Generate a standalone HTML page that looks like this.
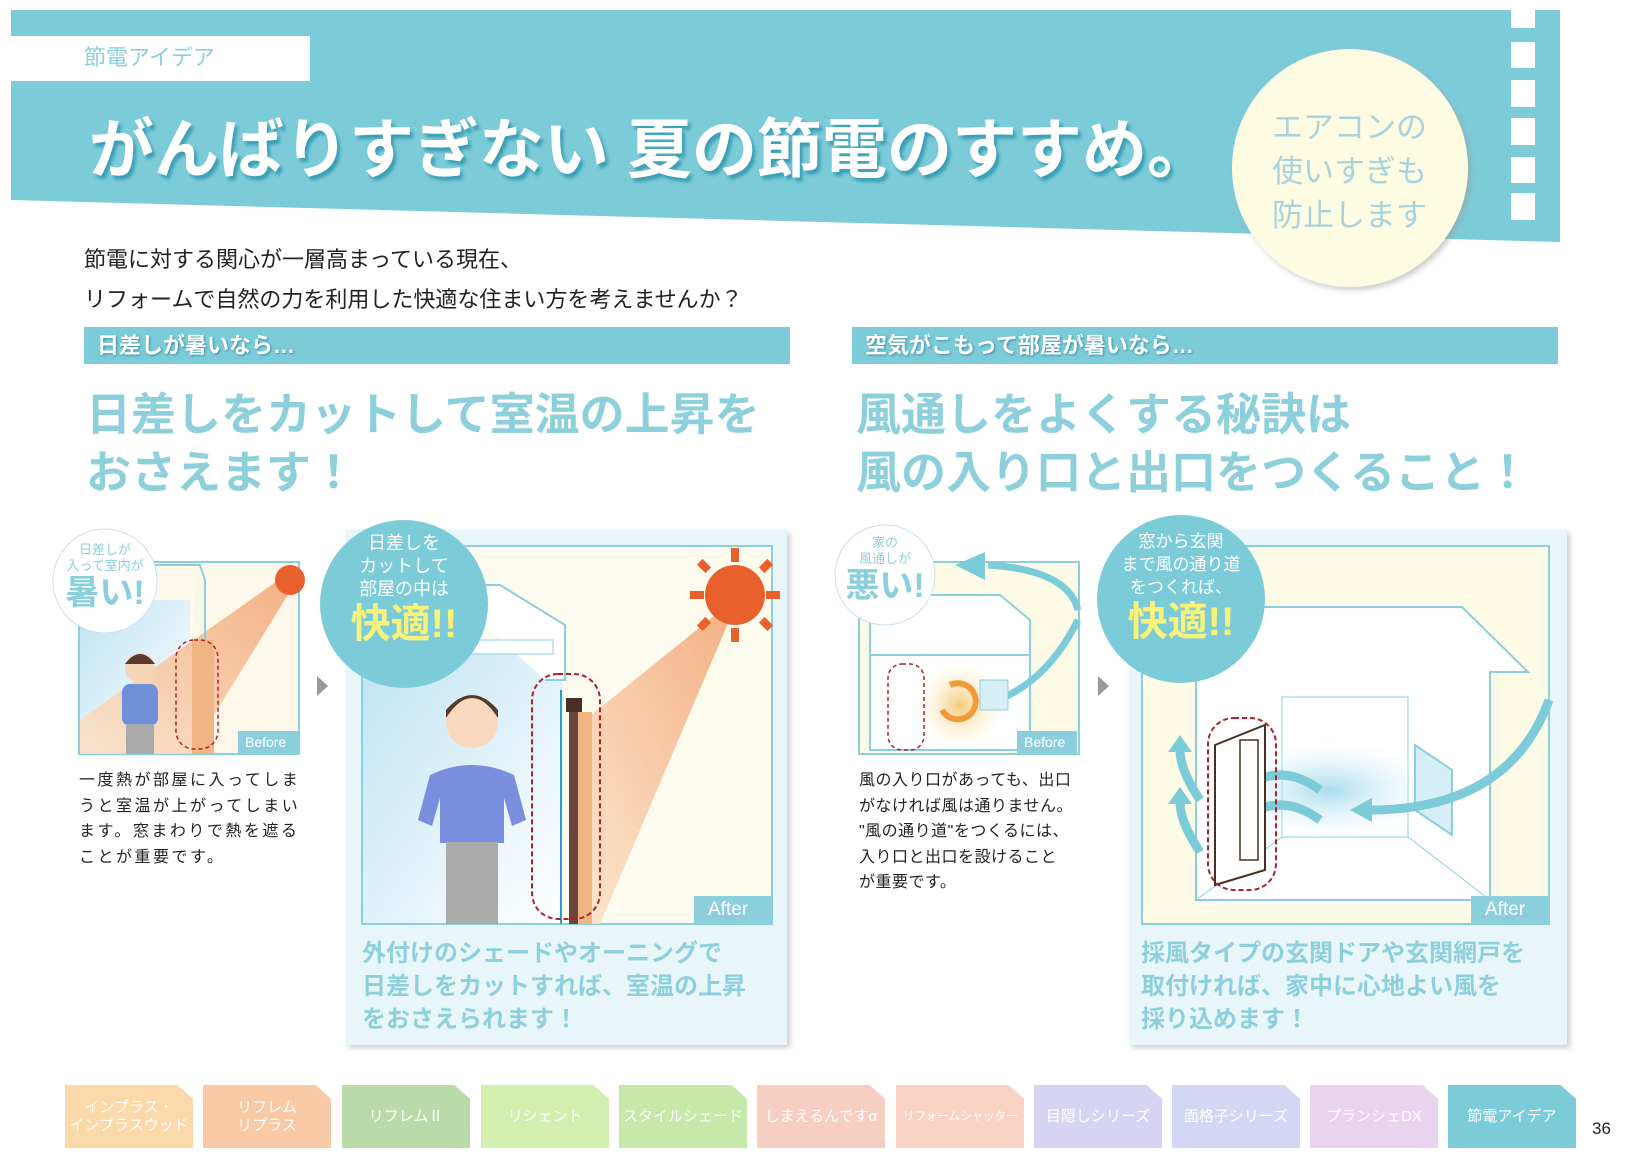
<!DOCTYPE html>
<html><head><meta charset="utf-8">
<style>
*{margin:0;padding:0;box-sizing:border-box}
body{width:1638px;height:1158px;background:#fff;position:relative;overflow:hidden;font-family:"Liberation Sans","Noto Sans CJK JP",sans-serif}
.t{position:absolute;white-space:nowrap;line-height:1}
.tab{position:absolute;top:1085px;height:63px;width:128px;color:#fff;font-size:15px;display:flex;align-items:center;justify-content:center;text-align:center;line-height:1.2;clip-path:polygon(0 0,88% 0,100% 22%,100% 100%,0 100%)}
</style></head><body>
<svg width="1638" height="1158" style="position:absolute;left:0;top:0">
<defs>
<linearGradient id="win" x1="0" y1="0" x2="1" y2="1"><stop offset="0" stop-color="#bfe3f3"/><stop offset="1" stop-color="#ffffff"/></linearGradient>
<linearGradient id="beam" x1="1" y1="0" x2="0" y2="1"><stop offset="0" stop-color="#f3a574"/><stop offset="1" stop-color="#fbe3c9"/></linearGradient>
<radialGradient id="warm"><stop offset="0" stop-color="#f7c97a"/><stop offset="1" stop-color="#fdf6dc" stop-opacity="0"/></radialGradient>
<radialGradient id="cool"><stop offset="0" stop-color="#a9dcee"/><stop offset="1" stop-color="#e8f6fb" stop-opacity="0"/></radialGradient>
<filter id="sh"><feDropShadow dx="3" dy="3" stdDeviation="3" flood-color="#999" flood-opacity=".5"/></filter>
</defs>
<polygon points="11,10 1560,10 1560,242 11,200" fill="#7ccbd8"/>
<g fill="#fff"><rect x="1511" y="10" width="24" height="18"/><rect x="1511" y="42" width="24" height="26"/><rect x="1511" y="80" width="24" height="27"/><rect x="1511" y="118" width="24" height="27"/><rect x="1511" y="157" width="24" height="26"/><rect x="1511" y="193" width="24" height="27"/></g>
<rect x="11" y="36" width="299" height="45" fill="#fff"/>
<ellipse cx="1350" cy="168" rx="118" ry="119" fill="#fdfbe2" filter="url(#sh)"/>
<rect x="84" y="327" width="706" height="37" fill="#7ccbd8"/>
<rect x="852" y="327" width="706" height="37" fill="#7ccbd8"/>

<rect x="79" y="562" width="220" height="192" fill="#fdf8ea" stroke="#8ccfdc" stroke-width="2"/>
<rect x="80" y="600" width="110" height="153" fill="url(#win)"/>
<polygon points="300,575 190,754 80,754 80,720 300,565" fill="url(#beam)" opacity=".9"/>
<polyline points="150,605 150,565 200,565 205,580 205,640" fill="none" stroke="#8ccfdc" stroke-width="2"/>
<circle cx="290" cy="580" r="15" fill="#e8612c"/>
<rect x="192" y="640" width="22" height="113" fill="#f0b584"/>
<circle cx="140" cy="668" r="15" fill="#f6d4b8"/><path d="M125 664 q15 -20 30 0" fill="#5a3a2a"/>
<rect x="122" y="684" width="36" height="42" rx="8" fill="#6f8fd8"/><rect x="126" y="724" width="28" height="30" fill="#aaa"/>
<rect x="176" y="640" width="42" height="109" rx="18" fill="none" stroke="#b0202a" stroke-width="1.5" stroke-dasharray="4,3"/>
<rect x="238" y="731" width="60" height="22" fill="#8ccfdc"/>
<polygon points="317,676 328,686 317,696" fill="#999"/>

<rect x="346" y="530" width="441" height="515" fill="#e8f6fa" filter="url(#sh)"/>
<rect x="362" y="546" width="410" height="378" fill="#fdfaee" stroke="#8ccfdc" stroke-width="2"/>
<rect x="363" y="640" width="200" height="283" fill="url(#win)"/>
<polyline points="440,585 500,585 565,625 565,680 545,680" fill="#fff" stroke="#8ccfdc" stroke-width="2"/>
<rect x="363" y="640" width="190" height="14" fill="#fff" stroke="#8ccfdc"/>
<polygon points="740,595 600,924 585,924 585,720" fill="url(#beam)" opacity=".9"/>
<g fill="#e8612c"><circle cx="735" cy="595" r="30"/><rect x="731" y="548" width="8" height="14"/><rect x="731" y="628" width="8" height="14"/><rect x="690" y="591" width="14" height="8"/><rect x="766" y="591" width="14" height="8"/><rect x="700" y="560" width="8" height="12" transform="rotate(-45 704 566)"/><rect x="762" y="560" width="8" height="12" transform="rotate(45 766 566)"/><rect x="700" y="618" width="8" height="12" transform="rotate(45 704 624)"/><rect x="762" y="618" width="8" height="12" transform="rotate(-45 766 624)"/></g>
<line x1="561" y1="690" x2="561" y2="924" stroke="#2aa0c8" stroke-width="2"/>
<rect x="569" y="698" width="9" height="226" fill="#6a4638"/><rect x="566" y="698" width="16" height="14" fill="#4a2e24"/>
<rect x="578" y="712" width="14" height="212" fill="#f0b584"/>
<circle cx="472" cy="722" r="26" fill="#f8d9be"/><path d="M446 718 q26 -40 52 0 l0 -8 q-26 -30 -52 0z" fill="#5a3a2a"/>
<path d="M430 775 q42 -20 84 0 l12 45 -14 6 -8 -28 0 45 -64 0 0 -45 -8 28 -14 -6z" fill="#7a8ee0"/>
<rect x="446" y="842" width="52" height="82" fill="#aaa"/>
<rect x="532" y="674" width="68" height="245" rx="26" fill="none" stroke="#b0202a" stroke-width="2" stroke-dasharray="5,3"/>
<rect x="694" y="896" width="78" height="28" fill="#8ccfdc"/>
<circle cx="404" cy="604" r="84" fill="#7ccbd8"/>
<circle cx="105" cy="581" r="52" fill="#fff" stroke="#cde" stroke-width="1"/>

<rect x="859" y="562" width="220" height="192" fill="#fdfbe6" stroke="#8ccfdc" stroke-width="2"/>
<polyline points="870,660 870,620 900,595 1000,595 1030,620 1030,660" fill="#fff" stroke="#8ccfdc" stroke-width="2"/>
<rect x="870" y="655" width="160" height="95" fill="#fff" stroke="#8ccfdc" stroke-width="2"/>
<circle cx="960" cy="705" r="45" fill="url(#warm)"/>
<path d="M950 685 a18 18 0 1 1 -8 25" fill="none" stroke="#f09a3a" stroke-width="6"/>
<path d="M1078 620 q-30 60 -80 80" fill="none" stroke="#7ccbd8" stroke-width="7"/>
<path d="M1078 610 q-10 -40 -90 -45" fill="none" stroke="#7ccbd8" stroke-width="7"/><polygon points="955,565 985,552 985,580" fill="#7ccbd8"/>
<rect x="980" y="680" width="28" height="30" fill="#d6eef6" stroke="#8ccfdc"/>
<rect x="888" y="664" width="36" height="86" rx="14" fill="none" stroke="#b0202a" stroke-width="1.5" stroke-dasharray="4,3"/>
<rect x="1017" y="731" width="60" height="22" fill="#8ccfdc"/>
<polygon points="1098,676 1109,686 1098,696" fill="#999"/>

<rect x="1129" y="530" width="438" height="515" fill="#e8f6fa" filter="url(#sh)"/>
<rect x="1142" y="546" width="407" height="378" fill="#fdfbe6" stroke="#8ccfdc" stroke-width="2"/>
<polygon points="1160,672 1228,607 1462,607 1528,672 1490,672 1490,900 1196,900 1196,672" fill="#fff" stroke="#8ccfdc" stroke-width="2"/>
<rect x="1282" y="697" width="126" height="140" fill="#fff" stroke="#8ccfdc"/>
<line x1="1196" y1="900" x2="1282" y2="837" stroke="#8ccfdc"/><line x1="1490" y1="900" x2="1408" y2="837" stroke="#8ccfdc"/>
<ellipse cx="1330" cy="790" rx="110" ry="50" fill="url(#cool)"/>
<polygon points="1415,745 1452,770 1452,835 1415,810" fill="#d6eef6" stroke="#8ccfdc" stroke-width="2"/>
<path d="M1549 700 q-40 110 -180 110" fill="none" stroke="#7ccbd8" stroke-width="9"/><polygon points="1372,798 1372,822 1350,810" fill="#7ccbd8"/>
<path d="M1320 790 q-40 -30 -80 0" fill="none" stroke="#7ccbd8" stroke-width="9"/>
<path d="M1320 820 q-40 -30 -80 0" fill="none" stroke="#7ccbd8" stroke-width="9"/>
<path d="M1200 800 q-20 -30 -20 -50" fill="none" stroke="#7ccbd8" stroke-width="9"/><polygon points="1168,752 1192,752 1180,735" fill="#7ccbd8"/>
<path d="M1200 852 q-20 -30 -20 -50" fill="none" stroke="#7ccbd8" stroke-width="9"/><polygon points="1168,804 1192,804 1180,787" fill="#7ccbd8"/>
<polygon points="1215,745 1265,725 1265,870 1215,885" fill="#fff" stroke="#4a2e24" stroke-width="2"/>
<rect x="1240" y="740" width="18" height="120" fill="none" stroke="#4a2e24" stroke-width="1.5"/>
<rect x="1208" y="718" width="68" height="172" rx="26" fill="none" stroke="#b0202a" stroke-width="2" stroke-dasharray="5,3"/>
<rect x="1471" y="896" width="78" height="28" fill="#8ccfdc"/>
<circle cx="1181" cy="599" r="84" fill="#7ccbd8"/>
<circle cx="885" cy="575" r="50" fill="#fff" stroke="#cde" stroke-width="1"/>
</svg>

<div class="t" style="left:84px;top:47px;font-size:22px;color:#8ccfdc">節電アイデア</div>
<div class="t" style="left:89px;top:117px;font-size:65px;font-weight:bold;color:#fff;letter-spacing:0px;text-shadow:3px 4px 3px #3a9fb5">がんばりすぎない 夏の節電のすすめ。</div>
<div class="t" style="left:1272px;top:106px;font-size:31px;line-height:44px;color:#a9d3dc;white-space:normal;width:170px">エアコンの<br>使いすぎも<br>防止します</div>
<div class="t" style="left:84px;top:240px;font-size:22px;line-height:40px;color:#222">節電に対する関心が一層高まっている現在、<br>リフォームで自然の力を利用した快適な住まい方を考えませんか？</div>
<div class="t" style="left:97px;top:335px;font-size:22px;color:#fff;font-weight:bold;text-shadow:1px 1px 2px #3a8fa5">日差しが暑いなら…</div>
<div class="t" style="left:865px;top:335px;font-size:22px;color:#fff;font-weight:bold;text-shadow:1px 1px 2px #3a8fa5">空気がこもって部屋が暑いなら…</div>
<div class="t" style="left:86px;top:386px;font-size:45px;line-height:58px;font-weight:bold;color:#8dd0dc">日差しをカットして室温の上昇を<br>おさえます！</div>
<div class="t" style="left:856px;top:386px;font-size:45px;line-height:58px;font-weight:bold;color:#8dd0dc">風通しをよくする秘訣は<br>風の入り口と出口をつくること！</div>

<div class="t" style="left:55px;top:542px;width:100px;text-align:center;font-size:13px;line-height:16px;color:#8ccfdc">日差しが<br>入って室内が<br><b style="font-size:34px;line-height:38px">暑い!</b></div>
<div class="t" style="left:320px;top:532px;width:168px;text-align:center;font-size:18px;line-height:23px;color:#fff">日差しを<br>カットして<br>部屋の中は<br><b style="font-size:40px;line-height:46px;color:#f8f27a">快適!!</b></div>
<div class="t" style="left:835px;top:535px;width:100px;text-align:center;font-size:13px;line-height:16px;color:#8ccfdc">家の<br>風通しが<br><b style="font-size:34px;line-height:38px">悪い!</b></div>
<div class="t" style="left:1097px;top:530px;width:168px;text-align:center;font-size:17px;line-height:23px;color:#fff">窓から玄関<br>まで風の通り道<br>をつくれば、<br><b style="font-size:40px;line-height:46px;color:#f8f27a">快適!!</b></div>

<div class="t" style="left:245px;top:735px;font-size:14px;color:#fff">Before</div>
<div class="t" style="left:1024px;top:735px;font-size:14px;color:#fff">Before</div>
<div class="t" style="left:708px;top:900px;font-size:19px;color:#fff">After</div>
<div class="t" style="left:1485px;top:900px;font-size:19px;color:#fff">After</div>

<div class="t" style="left:79px;top:768px;font-size:16px;line-height:25.5px;color:#222;letter-spacing:2.5px">一度熱が部屋に入ってしま<br>うと室温が上がってしまい<br>ます。窓まわりで熱を遮る<br>ことが重要です。</div>
<div class="t" style="left:859px;top:768px;font-size:16px;line-height:25.5px;color:#222;letter-spacing:0.5px">風の入り口があっても、出口<br>がなければ風は通りません。<br>"風の通り道"をつくるには、<br>入り口と出口を設けること<br>が重要です。</div>
<div class="t" style="left:362px;top:937px;font-size:24px;line-height:33px;font-weight:bold;color:#8dd0dc">外付けのシェードやオーニングで<br>日差しをカットすれば、室温の上昇<br>をおさえられます！</div>
<div class="t" style="left:1141px;top:937px;font-size:24px;line-height:33px;font-weight:bold;color:#8dd0dc">採風タイプの玄関ドアや玄関網戸を<br>取付ければ、家中に心地よい風を<br>採り込めます！</div>

<div class="tab" style="left:65px;background:#fbd9a8">インプラス・<br>インプラスウッド</div>
<div class="tab" style="left:203px;background:#f9c9a6">リフレム<br>リプラス</div>
<div class="tab" style="left:342px;background:#b9dbaa">リフレムⅡ</div>
<div class="tab" style="left:481px;background:#d3efb0">リシェント</div>
<div class="tab" style="left:619px;background:#c6e8a8">スタイルシェード</div>
<div class="tab" style="left:757px;background:#f6cfc2">しまえるんですα</div>
<div class="tab" style="left:896px;background:#f9d2c4;font-size:12px;letter-spacing:-0.5px">リフォームシャッター</div>
<div class="tab" style="left:1034px;background:#d6d4f2">目隠しシリーズ</div>
<div class="tab" style="left:1172px;background:#d3d7f3">面格子シリーズ</div>
<div class="tab" style="left:1310px;background:#ead3ef">プランシェDX</div>
<div class="tab" style="left:1448px;background:#7ccbd8">節電アイデア</div>
<div class="t" style="left:1592px;top:1120px;font-size:17px;color:#222">36</div>
</body></html>
